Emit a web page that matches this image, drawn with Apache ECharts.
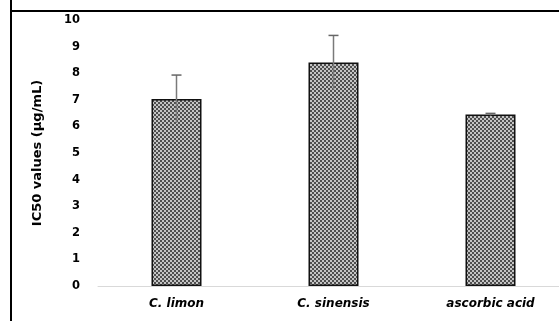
<!DOCTYPE html>
<html><head><meta charset="utf-8">
<script src="https://cdn.jsdelivr.net/npm/echarts@6/dist/echarts.min.js"></script>
<style>html,body{margin:0;padding:0;background:#fff;overflow:hidden;width:559px;height:321px}#c{width:569px;height:321px}</style>
</head><body><div id="c"></div>
<script>
const categories = ['C. limon', 'C. sinensis', 'ascorbic acid'];
const ic50Values = [7.03, 8.4, 6.45];
const ic50Errors = [0.9, 1.02, 0.04];
const yTicks = [0, 1, 2, 3, 4, 5, 6, 7, 8, 9, 10];

// checkered texture
const pc = document.createElement('canvas');
pc.width = 4; pc.height = 4;
const px = pc.getContext('2d');
px.fillStyle = '#c4c4c4'; px.fillRect(0, 0, 4, 4);
px.fillStyle = '#4e4e4e';
px.fillRect(0, 0, 2, 2); px.fillRect(2, 2, 2, 2);

const chart = echarts.init(document.getElementById('c'), null, {renderer: 'canvas'});
chart.setOption({
  animation: false,
  backgroundColor: '#fff',
  grid: {left: 98, top: 20, right: 0, bottom: 35, containLabel: false},
  xAxis: {
    type: 'category', data: categories,
    axisLine: {lineStyle: {color: '#d9d9d9', width: 1}},
    axisTick: {show: false},
    axisLabel: {margin: 12, fontFamily: 'DejaVu Sans', fontWeight: 'bold', fontStyle: 'italic', fontSize: 12, color: '#000'}
  },
  yAxis: {
    type: 'value', min: yTicks[0], max: yTicks[yTicks.length - 1], interval: 1,
    axisLine: {show: false}, axisTick: {show: false}, splitLine: {show: false},
    axisLabel: {margin: 18, fontFamily: 'DejaVu Sans', fontWeight: 'bold', fontSize: 11.5, color: '#000'},
    name: 'IC50 values (µg/mL)', nameLocation: 'middle', nameGap: 54, nameRotate: 90,
    nameTextStyle: {fontFamily: 'DejaVu Sans', fontWeight: 'bold', fontSize: 13, color: '#000'}
  },
  series: [
    {
      type: 'bar', data: ic50Values, barWidth: 50,
      itemStyle: {color: {image: pc, repeat: 'repeat'}, borderColor: '#111', borderWidth: 1.5}
    },
    {
      type: 'custom',
      data: ic50Values.map((v, i) => [i, v, ic50Errors[i]]),
      renderItem: function (params, api) {
        const i = api.value(0), v = api.value(1), e = api.value(2);
        const top = api.coord([i, v + e]);
        const bot = api.coord([i, v - e]);
        const hw = 5;
        return {
          type: 'group',
          children: [
            {type: 'line', shape: {x1: top[0], y1: top[1], x2: bot[0], y2: bot[1]}, style: {stroke: '#7a7a7a', lineWidth: 1.5}},
            {type: 'line', shape: {x1: top[0] - hw, y1: top[1], x2: top[0] + hw, y2: top[1]}, style: {stroke: '#666', lineWidth: 1.5}}
          ]
        };
      },
      z: 5
    }
  ],
  graphic: [
    {type: 'line', shape: {x1: 11, y1: 0, x2: 11, y2: 321}, style: {stroke: '#000', lineWidth: 2}, z: 10},
    {type: 'line', shape: {x1: 10, y1: 11, x2: 569, y2: 11}, style: {stroke: '#000', lineWidth: 2}, z: 10}
  ]
});
</script></body></html>
